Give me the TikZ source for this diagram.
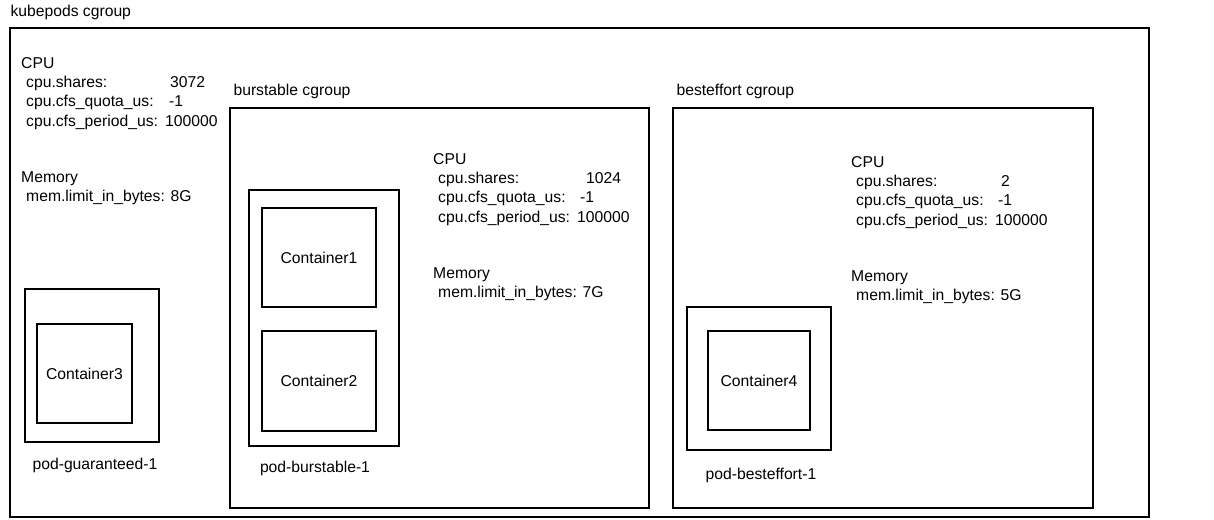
\documentclass[tikz,border=0pt]{standalone}
\usepackage{fontspec}
\setmainfont{Liberation Sans}
\usetikzlibrary{positioning}

\newcommand{\cgline}[3]{\hspace*{5pt}\makebox[#2pt][l]{#1}#3}

\begin{document}
\begin{tikzpicture}[x=1pt, y=-1pt,
    font=\fontsize{15.7}{19.2}\selectfont,
    group/.style={draw, line width=1.3pt, inner sep=0pt},
    pod/.style={draw, line width=1.3pt, inner sep=0pt},
    container/.style={draw, line width=2pt, inner sep=0pt},
    title/.style={inner sep=0pt, text height=11pt, text depth=0pt},
    params/.style={inner sep=0pt, anchor=base west}]
    \useasboundingbox (0,0) rectangle (1214,519);

    % kubepods cgroup
    \node[group, minimum width=1139pt, minimum height=489pt] (kube) at (579.5,272.5) {};
    \node[title, above right=10.5pt and 1pt of kube.north west] (kubelbl) {kubepods cgroup};
    \node[params] (kubecpu) at (21,68.5) {\begin{tabular}[t]{@{}l@{}}
        CPU\\
        \cgline{cpu.shares:}{144}{3072}\\
        \cgline{cpu.cfs\_quota\_us:}{143}{-1}\\
        \cgline{cpu.cfs\_period\_us:}{139}{100000}
    \end{tabular}};
    \node[params] (kubemem) at (21,182.5) {\begin{tabular}[t]{@{}l@{}}
        Memory\\
        \hspace*{5pt}mem.limit\_in\_bytes: 8G
    \end{tabular}};

    % guaranteed pod
    \node[pod, minimum width=134pt, minimum height=153pt] (podg) at (92,365.5) {};
    \node[container, minimum width=95pt, minimum height=99pt] (c3) at (84.5,373.5) {Container3};
    \node[title, below=16pt of podg, xshift=3pt] (podglbl) {pod-guaranteed-1};

    % burstable cgroup
    \node[group, minimum width=419pt, minimum height=400pt] (burst) at (439.5,308) {};
    \node[title, above right=12pt and 4pt of burst.north west] (burstlbl) {burstable cgroup};
    \node[params] (burstcpu) at (433,164.5) {\begin{tabular}[t]{@{}l@{}}
        CPU\\
        \cgline{cpu.shares:}{148}{1024}\\
        \cgline{cpu.cfs\_quota\_us:}{142}{-1}\\
        \cgline{cpu.cfs\_period\_us:}{139}{100000}
    \end{tabular}};
    \node[params] (burstmem) at (433,278.5) {\begin{tabular}[t]{@{}l@{}}
        Memory\\
        \hspace*{5pt}mem.limit\_in\_bytes: 7G
    \end{tabular}};
    \node[pod, minimum width=150pt, minimum height=256pt] (podb) at (324,318) {};
    \node[container, minimum width=114pt, minimum height=99pt] (c1) at (319,257.5) {Container1};
    \node[container, minimum width=114pt, minimum height=100pt] (c2) at (319,381) {Container2};
    \node[title, below=15pt of podb, xshift=-9pt] (podblbl) {pod-burstable-1};

    % besteffort cgroup
    \node[group, minimum width=420pt, minimum height=400pt] (best) at (883,308) {};
    \node[title, above right=12pt and 4pt of best.north west] (bestlbl) {besteffort cgroup};
    \node[params] (bestcpu) at (851,167.5) {\begin{tabular}[t]{@{}l@{}}
        CPU\\
        \cgline{cpu.shares:}{145}{2}\\
        \cgline{cpu.cfs\_quota\_us:}{142}{-1}\\
        \cgline{cpu.cfs\_period\_us:}{139}{100000}
    \end{tabular}};
    \node[params] (bestmem) at (851,281.5) {\begin{tabular}[t]{@{}l@{}}
        Memory\\
        \hspace*{5pt}mem.limit\_in\_bytes: 5G
    \end{tabular}};
    \node[pod, minimum width=144pt, minimum height=143pt] (pode) at (759,378.5) {};
    \node[container, minimum width=102pt, minimum height=99pt] (c4) at (759,380.5) {Container4};
    \node[title, below=17.5pt of pode, xshift=2pt] (podelbl) {pod-besteffort-1};
\end{tikzpicture}
\end{document}
